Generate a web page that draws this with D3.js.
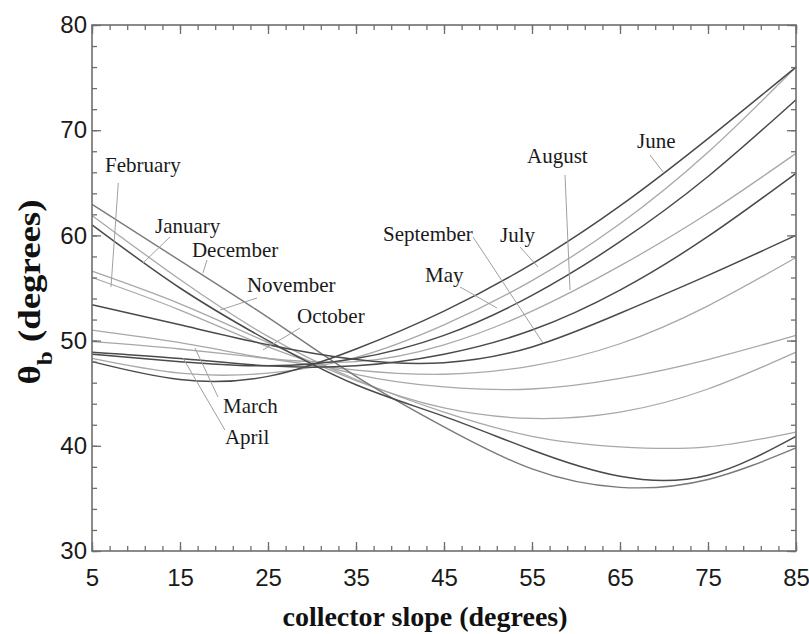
<!DOCTYPE html>
<html>
<head>
<meta charset="utf-8">
<script src="https://cdn.jsdelivr.net/npm/d3@7"></script>
<style>
  html, body { margin: 0; padding: 0; background: #fff; }
  svg { display: block; }
</style>
</head>
<body>
<svg id="chart" width="809" height="634"></svg>
<script>
// ---------------- DATA ----------------
const slopes = [5, 15, 25, 35, 45, 55, 65, 75, 85];

const december  = [62.95, 57.6, 52.2, 46.6, 41.8, 37.8, 36.05, 36.8, 39.8];
const january   = [61.0, 55.0, 50.0, 45.8, 42.8, 39.6, 37.1, 37.2, 40.9];
const november  = [61.9, 55.8, 50.4, 46.3, 43.2, 40.9, 39.9, 39.9, 41.3];
const february  = [56.6, 53.5, 49.8, 46.2, 43.6, 42.6, 43.2, 45.4, 48.9];
const october   = [56.0, 52.9, 49.4, 46.8, 45.6, 45.4, 46.4, 48.2, 50.5];
const march     = [51.0, 49.8, 48.3, 47.2, 46.8, 47.6, 49.7, 53.3, 57.9];
const september = [53.4, 51.5, 49.6, 48.2, 47.9, 49.4, 52.6, 56.2, 60.0];
const april     = [48.9, 48.3, 47.6, 47.6, 48.7, 51.0, 54.8, 59.9, 65.9];
const august    = [49.9, 49.2, 48.3, 48.0, 49.6, 52.8, 57.1, 62.1, 67.8];
const may       = [48.7, 48.0, 47.6, 48.3, 50.5, 54.3, 59.4, 65.6, 72.9];
const july      = [48.3, 46.9, 46.9, 48.4, 51.5, 55.7, 61.1, 67.9, 76.0];
const june      = [48.0, 46.3, 46.6, 49.2, 52.8, 57.3, 62.8, 69.2, 76.0];

const seriesNames  = ["November","February","October","March","August","July",
                      "December","January","September","April","May","June"];
const seriesValues = [november, february, october, march, august, july,
                      december, january, september, april, may, june];
const seriesTone   = ["light","light","light","light","light","light",
                      "mid","dark","dark","dark","dark","dark"];

// labels: [textX, textY, leaderX1, leaderY1, leaderX2, leaderY2] (data units)
const labelNames = ["February","January","December","November","October","March",
                    "April","September","July","May","August","June"];
const labelPos = [
  [6.48, 66.03, 7.99, 64.98, 7.16, 55.10],
  [12.16, 60.23, 13.86, 59.85, 10.80, 57.38],
  [16.36, 57.95, 18.07, 57.66, 17.61, 56.43],
  [22.61, 54.62, 23.75, 54.05, 19.55, 52.91],
  [28.30, 51.67, 28.64, 51.20, 24.43, 49.11],
  [19.89, 43.12, 19.32, 44.64, 16.70, 49.30],
  [20.11, 40.17, 20.11, 41.50, 15.34, 48.35],
  [38.07, 59.47, 48.30, 59.85, 56.25, 49.77],
  [51.36, 59.37, 53.64, 58.90, 55.68, 57.00],
  [42.84, 55.57, 46.82, 55.10, 51.02, 53.10],
  [54.43, 66.88, 58.75, 65.74, 59.32, 54.81],
  [66.93, 68.31, 68.41, 67.64, 69.89, 66.03]
];

const xMajor = [5, 15, 25, 35, 45, 55, 65, 75, 85];
const yMajor = [30, 40, 50, 60, 70, 80];
const xMinor = d3.range(5, 85.01, 2);
const yMinor = d3.range(30, 80.01, 2);

// ---------------- LAYOUT ----------------
const svg = d3.select("#chart");
const L = 92, R = 796, T = 25, B = 551;
const x = d3.scaleLinear().domain([5, 85]).range([L, R]);
const y = d3.scaleLinear().domain([30, 80]).range([B, T]);

const frameColor = "#6e6e6e";
const toneColor = { light: "#a8a8a8", mid: "#7a7a7a", dark: "#4a4a4a" };
const toneWidth = { light: 1.3, mid: 1.4, dark: 1.5 };

// curves
const line = d3.line()
  .x((d, i) => x(slopes[i]))
  .y(d => y(d))
  .curve(d3.curveNatural);

const g = svg.append("g");
seriesValues.forEach((vals, k) => {
  g.append("path")
    .attr("d", line(vals))
    .attr("fill", "none")
    .attr("stroke", toneColor[seriesTone[k]])
    .attr("stroke-width", toneWidth[seriesTone[k]])
    .attr("data-name", seriesNames[k]);
});

// axes (ticks inward on all sides)
function styleAxis(sel) {
  sel.select(".domain").remove();
  sel.selectAll(".tick line").attr("stroke", frameColor).attr("stroke-width", 1.3);
  sel.selectAll(".tick text")
    .attr("fill", "#1a1a1a")
    .style("font-family", "'Liberation Sans', Arial, sans-serif")
    .style("font-size", "24px");
}

svg.append("g").attr("transform", `translate(0,${B})`)
  .call(d3.axisBottom(x).tickValues(xMinor).tickSize(-5).tickFormat(""))
  .call(styleAxis);
svg.append("g").attr("transform", `translate(0,${B})`)
  .call(d3.axisBottom(x).tickValues(xMajor).tickSize(-9).tickPadding(18).tickFormat(d3.format("d")))
  .call(styleAxis);

svg.append("g").attr("transform", `translate(0,${T})`)
  .call(d3.axisTop(x).tickValues(xMinor).tickSize(-5).tickFormat(""))
  .call(styleAxis);
svg.append("g").attr("transform", `translate(0,${T})`)
  .call(d3.axisTop(x).tickValues(xMajor).tickSize(-9).tickFormat(""))
  .call(styleAxis);

svg.append("g").attr("transform", `translate(${L},0)`)
  .call(d3.axisLeft(y).tickValues(yMinor).tickSize(-5).tickFormat(""))
  .call(styleAxis);
svg.append("g").attr("transform", `translate(${L},0)`)
  .call(d3.axisLeft(y).tickValues(yMajor).tickSize(-9).tickPadding(5).tickFormat(d3.format("d")))
  .call(styleAxis);

svg.append("g").attr("transform", `translate(${R},0)`)
  .call(d3.axisRight(y).tickValues(yMinor).tickSize(-5).tickFormat(""))
  .call(styleAxis);
svg.append("g").attr("transform", `translate(${R},0)`)
  .call(d3.axisRight(y).tickValues(yMajor).tickSize(-9).tickFormat(""))
  .call(styleAxis);

// frame
svg.append("rect")
  .attr("x", L).attr("y", T).attr("width", R - L).attr("height", B - T)
  .attr("fill", "none").attr("stroke", frameColor).attr("stroke-width", 1.6);

// month labels and leaders
labelNames.forEach((name, k) => {
  const p = labelPos[k];
  svg.append("line")
    .attr("x1", x(p[2])).attr("y1", y(p[3]))
    .attr("x2", x(p[4])).attr("y2", y(p[5]))
    .attr("stroke", "#a0a0a0").attr("stroke-width", 1);
  svg.append("text")
    .attr("x", x(p[0])).attr("y", y(p[1]))
    .attr("fill", "#1a1a1a")
    .style("font-family", "'Liberation Serif', 'Times New Roman', serif")
    .style("font-size", "21px")
    .text(name);
});

// axis titles
svg.append("text")
  .attr("x", 425).attr("y", 626)
  .attr("text-anchor", "middle")
  .style("font-family", "'Liberation Serif', 'Times New Roman', serif")
  .style("font-size", "28px").style("font-weight", "bold")
  .attr("fill", "#111")
  .text("collector slope (degrees)");

const yt = svg.append("text")
  .attr("transform", `translate(40,${(T + B) / 2 + 4}) rotate(-90) scale(1.15,1)`)
  .attr("text-anchor", "middle")
  .style("font-family", "'Liberation Serif', 'Times New Roman', serif")
  .style("font-size", "32px").style("font-weight", "bold")
  .attr("fill", "#111");
yt.append("tspan").text("θ");
yt.append("tspan").attr("baseline-shift", "sub").style("font-size", "22px").text("b");
yt.append("tspan").text(" (degrees)");
</script>
</body>
</html>
